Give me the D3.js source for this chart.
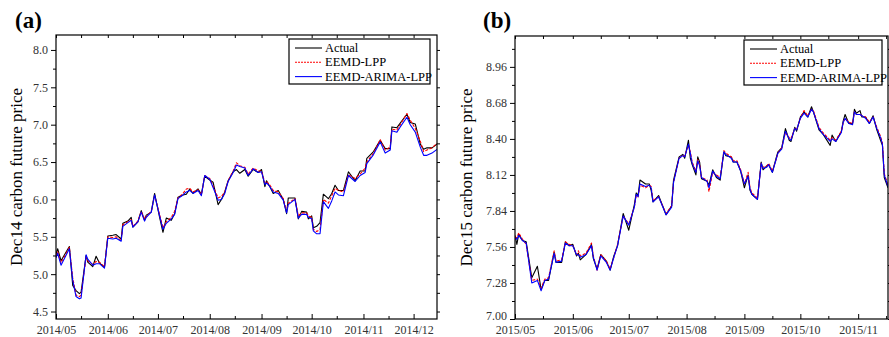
<!DOCTYPE html>
<html>
<head>
<meta charset="utf-8">
<script src="https://cdn.jsdelivr.net/npm/d3@7"></script>
<style>
  html, body { margin: 0; padding: 0; background: #fff; }
  svg { display: block; font-family: 'Liberation Serif', 'Times New Roman', serif; }
</style>
</head>
<body>
<svg id="chart" width="889" height="337"></svg>
<script>
// ---------- Panel (a): Dec14 ----------
const datesA = ["2014-05-01","2014-05-02","2014-05-04","2014-05-09","2014-05-11","2014-05-13","2014-05-15","2014-05-16","2014-05-19","2014-05-20",
"2014-05-23","2014-05-25","2014-05-27","2014-05-30","2014-06-01","2014-06-04","2014-06-06","2014-06-09","2014-06-10","2014-06-13",
"2014-06-15","2014-06-16","2014-06-19","2014-06-21","2014-06-23","2014-06-24","2014-06-27","2014-06-29","2014-07-02","2014-07-04",
"2014-07-06","2014-07-09","2014-07-11","2014-07-13","2014-07-16","2014-07-18","2014-07-20","2014-07-22","2014-07-25","2014-07-27",
"2014-07-29","2014-08-01","2014-08-03","2014-08-06","2014-08-08","2014-08-10","2014-08-12","2014-08-15","2014-08-17","2014-08-19",
"2014-08-22","2014-08-24","2014-08-27","2014-08-30","2014-09-01","2014-09-03","2014-09-04","2014-09-06","2014-09-08","2014-09-11",
"2014-09-14","2014-09-16","2014-09-17","2014-09-21","2014-09-23","2014-09-25","2014-09-28","2014-09-29","2014-10-01","2014-10-02",
"2014-10-04","2014-10-06","2014-10-08","2014-10-11","2014-10-13","2014-10-15","2014-10-17","2014-10-20","2014-10-23","2014-10-27",
"2014-10-30","2014-11-02","2014-11-03","2014-11-07","2014-11-11","2014-11-14","2014-11-17","2014-11-18","2014-11-21","2014-11-23",
"2014-11-27","2014-11-29","2014-12-02","2014-12-05","2014-12-07","2014-12-09","2014-12-12","2014-12-15"];
const actualA = [5.27,5.34,5.18,5.37,4.85,4.78,4.74,4.76,5.25,5.16,
5.10,5.24,5.15,5.09,5.51,5.52,5.53,5.47,5.68,5.71,
5.76,5.63,5.70,5.85,5.72,5.79,5.83,6.08,5.76,5.56,
5.75,5.72,5.81,6.03,6.06,6.07,6.14,6.08,6.14,6.07,
6.31,6.26,6.23,5.93,6.00,6.10,6.25,6.37,6.40,6.35,
6.40,6.31,6.40,6.36,6.40,6.17,6.25,6.17,6.08,6.12,
6.00,5.81,6.02,6.02,5.74,5.84,5.83,5.74,5.78,5.62,
5.64,5.69,6.07,6.01,6.08,6.19,6.12,6.12,6.37,6.25,
6.38,6.38,6.55,6.64,6.79,6.68,6.68,6.97,6.96,7.02,
7.14,7.03,7.01,6.74,6.67,6.69,6.69,6.74];
const lppA = [5.24,5.30,5.15,5.36,4.95,4.72,4.70,4.72,5.23,5.18,
5.13,5.17,5.16,5.10,5.50,5.49,5.50,5.45,5.66,5.70,
5.73,5.64,5.71,5.84,5.74,5.77,5.84,6.05,5.80,5.62,
5.70,5.76,5.84,6.02,6.08,6.14,6.15,6.10,6.13,6.06,
6.32,6.28,6.18,6.02,6.04,6.10,6.25,6.38,6.49,6.45,
6.43,6.34,6.42,6.38,6.38,6.22,6.24,6.19,6.12,6.10,
6.01,5.84,5.95,6.01,5.78,5.82,5.82,5.78,5.76,5.60,
5.57,5.60,6.00,5.95,6.05,6.15,6.12,6.10,6.33,6.28,
6.34,6.42,6.50,6.62,6.80,6.66,6.70,6.94,6.93,7.00,
7.15,7.06,6.95,6.78,6.64,6.66,6.69,6.75];
const arimaA = [5.22,5.28,5.12,5.34,4.92,4.70,4.67,4.68,5.26,5.20,
5.12,5.14,5.14,5.08,5.48,5.47,5.48,5.44,5.64,5.69,
5.72,5.63,5.70,5.83,5.71,5.76,5.83,6.06,5.78,5.60,
5.68,5.74,5.80,6.01,6.06,6.10,6.12,6.08,6.12,6.05,
6.32,6.27,6.16,5.99,6.00,6.08,6.24,6.36,6.46,6.44,
6.42,6.32,6.41,6.36,6.37,6.20,6.22,6.17,6.10,6.08,
5.99,5.82,5.93,6.00,5.75,5.80,5.80,5.76,5.74,5.58,
5.54,5.54,5.97,5.88,5.98,6.10,6.06,6.05,6.32,6.24,
6.32,6.36,6.48,6.60,6.77,6.62,6.66,6.92,6.90,6.97,
7.10,7.00,6.90,6.70,6.59,6.59,6.62,6.67];
const yTicksA = [4.5,5.0,5.5,6.0,6.5,7.0,7.5,8.0];

// ---------- Panel (b): Dec15 ----------
const datesB = ["2015-05-01","2015-05-02","2015-05-03","2015-05-05","2015-05-07","2015-05-10","2015-05-13","2015-05-15","2015-05-17","2015-05-19",
"2015-05-22","2015-05-23","2015-05-26","2015-05-28","2015-05-30","2015-06-01","2015-06-03","2015-06-04","2015-06-05","2015-06-08",
"2015-06-11","2015-06-12","2015-06-14","2015-06-16","2015-06-19","2015-06-21","2015-06-23","2015-06-25","2015-06-28","2015-07-01",
"2015-07-04","2015-07-05","2015-07-06","2015-07-07","2015-07-10","2015-07-12","2015-07-13","2015-07-14","2015-07-17","2015-07-21",
"2015-07-24","2015-07-25","2015-07-28","2015-07-30","2015-07-31","2015-08-02","2015-08-03","2015-08-04","2015-08-06","2015-08-07",
"2015-08-08","2015-08-09","2015-08-12","2015-08-13","2015-08-15","2015-08-17","2015-08-19","2015-08-21","2015-08-22","2015-08-25",
"2015-08-26","2015-08-28","2015-08-30","2015-09-01","2015-09-03","2015-09-04","2015-09-05","2015-09-08","2015-09-10","2015-09-11",
"2015-09-13","2015-09-14","2015-09-16","2015-09-18","2015-09-19","2015-09-21","2015-09-23","2015-09-25","2015-09-26","2015-09-28",
"2015-09-29","2015-10-01","2015-10-03","2015-10-05","2015-10-07","2015-10-08","2015-10-11","2015-10-13","2015-10-17","2015-10-18",
"2015-10-20","2015-10-23","2015-10-24","2015-10-25","2015-10-27","2015-10-29","2015-10-30","2015-10-31","2015-11-02","2015-11-03",
"2015-11-05","2015-11-07","2015-11-09","2015-11-11","2015-11-13","2015-11-14","2015-11-15","2015-11-17"];
const actualB = [7.65,7.58,7.66,7.61,7.60,7.32,7.41,7.23,7.30,7.30,
7.52,7.44,7.44,7.60,7.57,7.58,7.49,7.51,7.46,7.50,
7.58,7.47,7.39,7.50,7.45,7.38,7.49,7.57,7.82,7.69,
7.89,7.98,7.96,8.08,8.05,8.05,8.00,7.91,7.96,7.81,
7.88,8.08,8.26,8.28,8.25,8.39,8.25,8.20,8.12,8.26,
8.22,8.09,8.07,8.04,8.16,8.10,8.08,8.30,8.27,8.26,
8.22,8.22,8.15,8.02,8.12,8.00,7.97,7.93,8.22,8.16,
8.19,8.20,8.14,8.25,8.30,8.33,8.48,8.39,8.38,8.49,
8.46,8.57,8.61,8.57,8.65,8.61,8.47,8.44,8.35,8.43,
8.38,8.46,8.54,8.59,8.52,8.52,8.63,8.60,8.62,8.57,
8.57,8.52,8.58,8.47,8.39,8.35,8.10,8.02];
const lppB = [7.64,7.63,7.67,7.62,7.58,7.30,7.31,7.24,7.31,7.32,
7.53,7.45,7.46,7.60,7.58,7.57,7.50,7.53,7.49,7.51,
7.59,7.49,7.38,7.50,7.45,7.39,7.48,7.58,7.80,7.74,
7.87,7.96,7.95,8.04,8.02,8.04,8.03,7.92,7.95,7.82,
7.88,8.06,8.25,8.27,8.27,8.35,8.30,8.22,8.15,8.24,
8.20,8.10,8.08,7.99,8.14,8.12,8.10,8.31,8.29,8.26,
8.23,8.23,8.16,8.05,8.14,8.02,7.98,7.94,8.21,8.18,
8.19,8.21,8.15,8.24,8.29,8.33,8.45,8.41,8.40,8.48,
8.47,8.56,8.62,8.58,8.63,8.62,8.49,8.45,8.39,8.41,
8.39,8.46,8.53,8.56,8.53,8.52,8.61,8.59,8.59,8.58,
8.57,8.53,8.57,8.49,8.42,8.37,8.13,8.04];
const arimaB = [7.63,7.62,7.65,7.61,7.59,7.28,7.30,7.22,7.30,7.31,
7.51,7.44,7.45,7.59,7.57,7.57,7.50,7.50,7.48,7.50,
7.57,7.48,7.38,7.49,7.44,7.38,7.48,7.57,7.80,7.73,
7.87,7.97,7.95,8.05,8.03,8.04,8.02,7.91,7.95,7.81,
7.87,8.06,8.25,8.27,8.26,8.36,8.29,8.21,8.14,8.23,
8.19,8.10,8.07,8.02,8.15,8.11,8.09,8.30,8.28,8.25,
8.22,8.22,8.15,8.05,8.11,8.01,7.97,7.93,8.21,8.17,
8.18,8.20,8.14,8.24,8.29,8.32,8.46,8.40,8.39,8.48,
8.47,8.56,8.60,8.57,8.63,8.61,8.48,8.44,8.38,8.40,
8.38,8.45,8.53,8.56,8.52,8.51,8.61,8.59,8.59,8.58,
8.56,8.52,8.57,8.48,8.41,8.36,8.12,8.03];
const yTicksB = [7.00,7.28,7.56,7.84,8.12,8.40,8.68,8.96];

const seriesNames = ["Actual","EEMD-LPP","EEMD-ARIMA-LPP"];
const seriesColors = ["#000000","#ff0000","#0000ff"];

const parse = d3.timeParse("%Y-%m-%d");
const svg = d3.select("#chart");

function drawPanel(cfg) {
  const g = svg.append("g");
  const x = d3.scaleTime().domain(cfg.xDomain.map(parse)).range([cfg.left, cfg.right]);
  const y = d3.scaleLinear().domain(cfg.yDomain).range([cfg.bottom, cfg.top]);

  const clipId = "clip" + cfg.id;
  svg.append("clipPath").attr("id", clipId).append("rect")
    .attr("x", cfg.left).attr("y", cfg.top)
    .attr("width", cfg.right - cfg.left).attr("height", cfg.bottom - cfg.top);

  // minor tick values (midpoints between majors)
  const yMinor = [];
  const step = cfg.yTicks[1] - cfg.yTicks[0];
  const ylo = cfg.yDomain[0], yhi = cfg.yDomain[1];
  for (let i = 0; i < cfg.yTicks.length + 1; i++) {
    const v = cfg.yTicks[0] + (i - 0.5) * step;
    if (v > ylo + 1e-9 && v < yhi - 1e-9) yMinor.push(v);
  }
  const months = x.ticks(d3.timeMonth.every(1));
  const xMinor = d3.timeDay.range(x.domain()[0], x.domain()[1]).filter(d => d.getDate() === 16);

  // series
  const dates = cfg.dates.map(parse);
  const sets = [cfg.actual, cfg.lpp, cfg.arima];
  const line = d3.line().x((d, i) => x(dates[i])).y(d => y(d));
  const plot = g.append("g").attr("clip-path", `url(#${clipId})`);
  sets.forEach((vals, k) => {
    plot.append("path").datum(vals)
      .attr("d", line)
      .attr("fill", "none")
      .attr("stroke", seriesColors[k])
      .attr("stroke-width", 1.1)
      .attr("stroke-linejoin", "round")
      .attr("stroke-dasharray", k === 1 ? "3,1.5" : null);
  });

  // axes
  const fontFam = "'Liberation Serif', 'Times New Roman', serif";
  const styleAxis = sel => {
    sel.select(".domain").remove();
    sel.selectAll(".tick line").attr("stroke", "#000").attr("stroke-width", 1);
    sel.selectAll("text").attr("fill", "#333").style("font-family", fontFam).style("font-size", "12px");
  };
  const leftAx = g.append("g").attr("transform", `translate(${cfg.left},0)`)
    .call(d3.axisLeft(y).tickValues(cfg.yTicks).tickFormat(d3.format(cfg.fmt)).tickSize(5).tickPadding(3))
    .call(styleAxis);
  // nudge the lowest label when it sits on the bottom axis corner
  leftAx.selectAll(".tick text").filter(d => Math.abs(d - ylo) < 1e-9).attr("dy", "0.02em");
  g.append("g").attr("transform", `translate(${cfg.left},0)`)
    .call(d3.axisLeft(y).tickValues(yMinor).tickFormat("").tickSize(3))
    .call(styleAxis);
  g.append("g").attr("transform", `translate(${cfg.right},0)`)
    .call(d3.axisRight(y).tickValues(cfg.yTicks.concat(yMinor)).tickFormat("").tickSize(3))
    .call(styleAxis);
  g.append("g").attr("transform", `translate(0,${cfg.bottom})`)
    .call(d3.axisBottom(x).tickValues(months).tickFormat(d3.timeFormat("%Y/%m")).tickSizeInner(-5).tickSizeOuter(0).tickPadding(6.5))
    .call(styleAxis);
  g.append("g").attr("transform", `translate(0,${cfg.bottom})`)
    .call(d3.axisBottom(x).tickValues(xMinor).tickFormat("").tickSizeInner(-3).tickSizeOuter(0))
    .call(styleAxis);
  g.append("g").attr("transform", `translate(0,${cfg.top})`)
    .call(d3.axisTop(x).tickValues(months.concat(xMinor)).tickFormat("").tickSizeInner(-3).tickSizeOuter(0))
    .call(styleAxis);

  // frame
  g.append("rect").attr("x", cfg.left).attr("y", cfg.top)
    .attr("width", cfg.right - cfg.left).attr("height", cfg.bottom - cfg.top)
    .attr("fill", "none").attr("stroke", "#000").attr("stroke-width", 1.2);

  // panel label
  g.append("text").attr("x", cfg.labelX).attr("y", 28)
    .style("font-size", "23px").style("font-weight", "bold").attr("fill", "#000")
    .text(cfg.label);

  // y title
  g.append("text")
    .attr("transform", `translate(${cfg.titleX},${(cfg.top + cfg.bottom) / 2}) rotate(-90)`)
    .attr("text-anchor", "middle")
    .style("font-size", "17px").attr("fill", "#000")
    .text(cfg.yTitle);

  // legend
  const L = cfg.legend;
  g.append("rect").attr("x", L.x).attr("y", L.y).attr("width", L.w).attr("height", L.h)
    .attr("fill", "#fff").attr("stroke", "#000").attr("stroke-width", 1.2);
  seriesNames.forEach((name, k) => {
    const cy = L.y + 9 + k * 14.3;
    g.append("line").attr("x1", L.x + 6).attr("x2", L.x + 33).attr("y1", cy).attr("y2", cy)
      .attr("stroke", seriesColors[k]).attr("stroke-width", 1.1)
      .attr("stroke-dasharray", k === 1 ? "2,1" : null);
    g.append("text").attr("x", L.x + 36).attr("y", cy + 4)
      .style("font-size", "12.5px").attr("fill", "#000").text(name);
  });
}

drawPanel({
  id: "a", left: 56, right: 437, top: 35, bottom: 319,
  xDomain: ["2014-05-01", "2014-12-15"], yDomain: [4.4, 8.2],
  yTicks: yTicksA, fmt: ".1f",
  dates: datesA, actual: actualA, lpp: lppA, arima: arimaA,
  label: "(a)", labelX: 15, titleX: 22, yTitle: "Dec14 carbon future price",
  legend: { x: 289, y: 39, w: 141, h: 45 }
});

drawPanel({
  id: "b", left: 515, right: 888, top: 36, bottom: 319,
  xDomain: ["2015-05-01", "2015-11-17"], yDomain: [7.0, 9.2],
  yTicks: yTicksB, fmt: ".2f",
  dates: datesB, actual: actualB, lpp: lppB, arima: arimaB,
  label: "(b)", labelX: 483, titleX: 472, yTitle: "Dec15 carbon future price",
  legend: { x: 744, y: 40, w: 138, h: 45 }
});
</script>
</body>
</html>
